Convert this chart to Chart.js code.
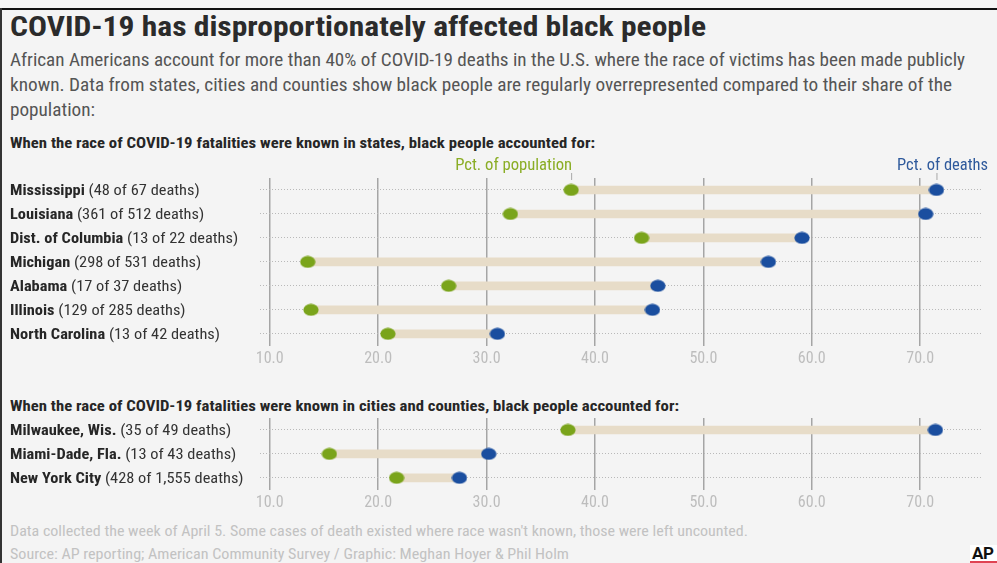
<!DOCTYPE html>
<html><head><meta charset="utf-8">
<script src="https://cdn.jsdelivr.net/npm/chart.js@4"></script>
<style>
html,body{margin:0;padding:0;background:#f4f4f4;}
#wrap{position:relative;width:997px;height:563px;overflow:hidden;background:#f4f4f4;font-family:"Roboto Condensed","Liberation Sans Narrow","DejaVu Sans Condensed",Roboto,sans-serif;}
.t{position:absolute;left:10px;white-space:nowrap;transform-origin:0 50%;}
canvas{position:absolute;left:0;top:0;}
</style></head>
<body><div id="wrap">
<div style="position:absolute;left:0;top:8px;width:997px;height:2px;background:#111"></div>
<div style="position:absolute;left:0;top:8px;width:2px;height:555px;background:#333"></div>
<div class="t" data-w="696" style="top:12px;font-size:27px;line-height:30px;font-weight:bold;color:#2b2b2b">COVID-19 has disproportionately affected black people</div>
<div class="t" data-w="955" style="top:48px;font-size:17.5px;line-height:24px;color:#555">African Americans account for more than 40% of COVID-19 deaths in the U.S. where the race of victims has been made publicly</div>
<div class="t" data-w="942" style="top:73px;font-size:17.5px;line-height:24px;color:#555">known. Data from states, cities and counties show black people are regularly overrepresented compared to their share of the</div>
<div class="t" data-w="85" style="top:98px;font-size:17.5px;line-height:24px;color:#555">population:</div>
<div class="t" data-w="585" style="top:133px;font-size:15px;line-height:20px;font-weight:bold;color:#262626">When the race of COVID-19 fatalities were known in states, black people accounted for:</div>
<div class="t" data-w="669" style="top:396px;font-size:15px;line-height:20px;font-weight:bold;color:#262626">When the race of COVID-19 fatalities were known in cities and counties, black people accounted for:</div>
<div class="t" data-w="738" style="top:521px;font-size:14px;line-height:20px;color:#c2c2c2">Data collected the week of April 5. Some cases of death existed where race wasn't known, those were left uncounted.</div>
<div class="t" data-w="559" style="top:544px;font-size:14px;line-height:20px;color:#c2c2c2">Source: AP reporting; American Community Survey / Graphic: Meghan Hoyer &amp; Phil Holm</div>
<div style="position:absolute;left:970px;top:545px;width:27px;height:18px;background:#fff"></div>
<div style="position:absolute;left:972px;top:543px;font:bold 17px Roboto,'Liberation Sans',sans-serif;color:#111;letter-spacing:-0.5px;line-height:20px">AP</div>
<div style="position:absolute;left:970px;top:561px;width:27px;height:2px;background:#e04353"></div>
<canvas id="c1" width="997" height="563"></canvas>
<canvas id="c2" width="997" height="563"></canvas>
</div>
<script>
// ---------- data ----------
const stateNames = ['Mississippi','Louisiana','Dist. of Columbia','Michigan','Alabama','Illinois','North Carolina'];
const stateCounts = ['(48 of 67 deaths)','(361 of 512 deaths)','(13 of 22 deaths)','(298 of 531 deaths)','(17 of 37 deaths)','(129 of 285 deaths)','(13 of 42 deaths)'];
const statePopPct = [37.8, 32.2, 44.3, 13.5, 26.5, 13.8, 20.9];
const stateDeathPct = [71.5, 70.5, 59.1, 56.0, 45.8, 45.3, 31.0];
const cityNames = ['Milwaukee, Wis.','Miami-Dade, Fla.','New York City'];
const cityCounts = ['(35 of 49 deaths)','(13 of 43 deaths)','(428 of 1,555 deaths)'];
const cityPopPct = [37.5, 15.5, 21.7];
const cityDeathPct = [71.4, 30.2, 27.5];
const xTickValues = [10, 20, 30, 40, 50, 60, 70];
const popLabel = 'Pct. of population';
const deathLabel = 'Pct. of deaths';

// ---------- fit html text ----------
document.querySelectorAll('.t').forEach(el => {
  const w = +el.dataset.w, m = el.getBoundingClientRect().width;
  if (w && m) el.style.transform = 'scaleX(' + (w / m) + ')';
});

const fontStack = '"Roboto Condensed","Liberation Sans Narrow","DejaVu Sans Condensed",Roboto,sans-serif';
Chart.defaults.font.family = fontStack;

function dot(color) {
  const c = document.createElement('canvas');
  c.width = 16; c.height = 13;
  const g = c.getContext('2d');
  g.fillStyle = color;
  g.beginPath(); g.ellipse(8, 6.5, 7.6, 5.9, 0, 0, Math.PI * 2); g.fill();
  return c;
}
const greenDot = dot('#7aa41b');
const blueDot = dot('#1a4e9f');

function fitText(ctx, text, x, y, target, align) {
  const m = ctx.measureText(text).width;
  ctx.save(); ctx.translate(x, y); ctx.scale(target / m, 1);
  ctx.textAlign = align; ctx.fillText(text, 0, 0); ctx.restore();
}

function labelPlugin(counts, heads) {
  return {
    id: 'rowLabels',
    afterDraw(chart) {
      const ctx = chart.ctx, ys = chart.scales.y, xs = chart.scales.x;
      ctx.save();
      ctx.textBaseline = 'middle';
      ctx.font = 'bold 15px ' + fontStack;
      const wb = ctx.measureText('North Carolina ').width;
      ctx.font = '15px ' + fontStack;
      const wr = ctx.measureText('(13 of 42 deaths)').width;
      const sq = 210 / (wb + wr);
      chart.data.labels.forEach((name, i) => {
        const y = ys.getPixelForValue(i) + 1;
        ctx.save(); ctx.translate(10, y); ctx.scale(sq, 1);
        ctx.textAlign = 'left';
        ctx.font = 'bold 15px ' + fontStack; ctx.fillStyle = '#262626';
        ctx.fillText(name, 0, 0);
        const w = ctx.measureText(name + ' ').width;
        ctx.font = '15px ' + fontStack; ctx.fillStyle = '#333';
        ctx.fillText(counts[i], w, 0);
        ctx.restore();
      });
      if (heads) {
        const y0 = ys.getPixelForValue(0);
        const gx = xs.getPixelForValue(chart.data.datasets[1].data[0]);
        const bx = xs.getPixelForValue(chart.data.datasets[0].data[0]);
        ctx.font = '16px ' + fontStack;
        ctx.fillStyle = '#8aad25';
        fitText(ctx, popLabel, gx + 1, y0 - 24, 117, 'right');
        ctx.fillStyle = '#2f5a9c';
        fitText(ctx, deathLabel, chart.chartArea.right + 6, y0 - 24, 91, 'right');
        ctx.strokeStyle = '#a8a8a8'; ctx.lineWidth = 1;
        ctx.beginPath();
        ctx.moveTo(gx + 0.5, y0 - 17); ctx.lineTo(gx + 0.5, y0 - 10);
        ctx.moveTo(bx + 0.5, y0 - 17); ctx.lineTo(bx + 0.5, y0 - 10);
        ctx.stroke();
      }
      ctx.restore();
    }
  };
}

function makeChart(id, names, counts, pop, deaths, padTop, padBottom, heads) {
  return new Chart(document.getElementById(id), {
    type: 'bar',
    data: {
      labels: names,
      datasets: [
        { type: 'line', label: deathLabel, data: deaths, indexAxis: 'y', showLine: false,
          pointStyle: blueDot, pointRadius: 8, order: 0 },
        { type: 'line', label: popLabel, data: pop, indexAxis: 'y', showLine: false,
          pointStyle: greenDot, pointRadius: 8, order: 0 },
        { type: 'bar', label: 'gap', data: pop.map((p, i) => [p, deaths[i]]),
          backgroundColor: '#e7dcc8', barThickness: 8, borderSkipped: false, order: 1 }
      ]
    },
    options: {
      indexAxis: 'y', responsive: false, animation: false, events: [],
      layout: { padding: { left: 260, right: 15, top: padTop, bottom: padBottom } },
      plugins: { legend: { display: false }, tooltip: { enabled: false } },
      scales: {
        x: {
          type: 'linear', min: 9.1, max: 75.7,
          afterBuildTicks: s => { s.ticks = xTickValues.map(v => ({ value: v })); },
          grid: { color: '#a5a5a5', lineWidth: 1.5, drawTicks: false },
          border: { display: false },
          ticks: { padding: 4, color: '#bdbdbd', font: { size: 16 }, maxRotation: 0, autoSkip: false,
                   callback: v => Number(v).toFixed(1) }
        },
        y: {
          type: 'category', offset: true,
          grid: { offset: false, color: '#b9b9b9', lineWidth: 1, drawTicks: false },
          border: { display: false, dash: [1, 2] },
          ticks: { display: false }
        }
      }
    },
    plugins: [labelPlugin(counts, heads)]
  });
}

makeChart('c1', stateNames, stateCounts, statePopPct, stateDeathPct, 178, 190, true);
makeChart('c2', cityNames, cityCounts, cityPopPct, cityDeathPct, 418, 46, false);
</script>
</body></html>
